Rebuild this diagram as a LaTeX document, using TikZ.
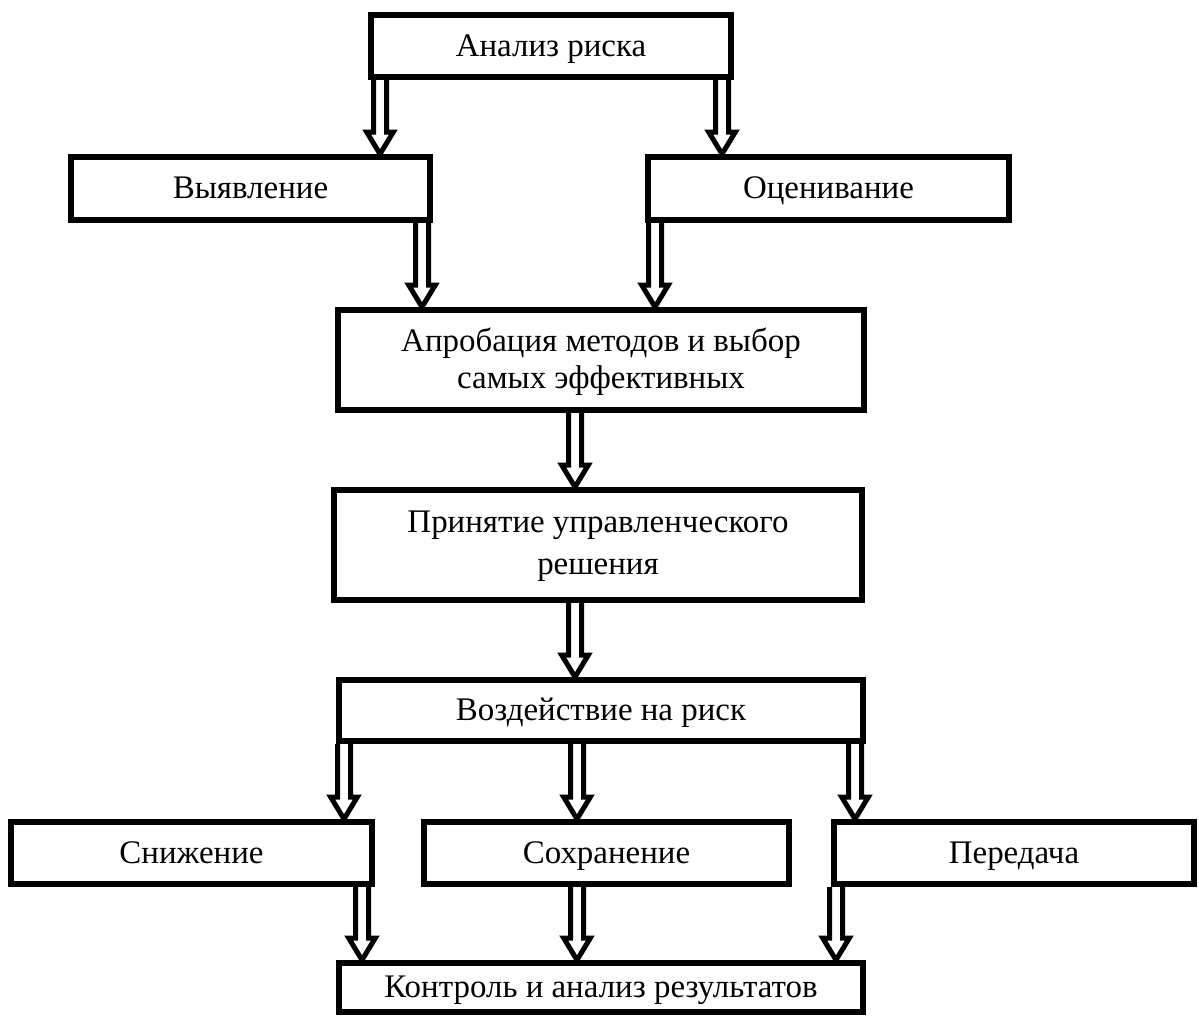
\documentclass[tikz,border=0pt]{standalone}
\usepackage{fontspec}
\setmainfont{Liberation Serif}
\usetikzlibrary{calc}
\tikzset{
  box/.style={draw=black, fill=white, line width=4.5pt, rectangle, inner sep=0pt,
    align=center, font=\fontsize{24.7}{27.75}\selectfont},
  dbl/.style={draw=black, fill=white, line width=3.75pt, line join=miter, miter limit=10}
}
\newcommand\tstrut{\rule[-8.3pt]{0pt}{32.2pt}}
\newcommand\bx[6]{\node[box, minimum width={(#4-#2-6)*0.75pt}, minimum height={(#5-#3-6)*0.75pt}] (#1) at ({(#2+#4)/2},{(#3+#5)/2}) {\tstrut #6};}
\newcommand\darr[3]{\draw[dbl] let \p1=(#2.south -| #1), \p2=(#3.north -| #1) in
 (\x1-4.875pt,\y1) -- (\x1-4.875pt,\y2+16.5pt) -- (\x1-10pt,\y2+16.5pt) -- (\x1,\y2) -- (\x1+10pt,\y2+16.5pt) -- (\x1+4.875pt,\y2+16.5pt) -- (\x1+4.875pt,\y1);}
\begin{document}
\begin{tikzpicture}[x=0.75pt, y=-0.75pt]
\useasboundingbox (0,0) rectangle (1199,1025);
\fill[white] (0,0) rectangle (1199,1025);
\bx{ana}{368}{12}{734}{80}{Анализ риска}
\bx{vyy}{68}{154}{433}{223}{Выявление}
\bx{otc}{645}{154}{1012}{223}{Оценивание}
\bx{apr}{335}{307}{867}{413}{Апробация методов и выбор\strut\\\strut самых эффективных}
\node[box, minimum width={(865-331-6)*0.75pt}, minimum height={(603-487-6)*0.75pt}, font=\fontsize{24.7}{31.5}\selectfont] (pri) at (598,545) {\strut Принятие управленческого\strut\\\strut решения\strut};
\bx{voz}{336}{677}{866}{744}{Воздействие на риск}
\bx{sni}{8}{819}{375}{887}{Снижение}
\bx{sox}{421}{819}{792}{887}{Сохранение}
\bx{per}{831}{819}{1197}{887}{Передача}
\bx{kon}{336}{960}{866}{1015}{Контроль и анализ результатов}
\coordinate (x1) at (380,0);
\coordinate (x2) at (722,0);
\coordinate (x3) at (422,0);
\coordinate (x4) at (655,0);
\coordinate (x5) at (575,0);
\coordinate (x6) at (344,0);
\coordinate (x7) at (577,0);
\coordinate (x8) at (855,0);
\coordinate (x9) at (362,0);
\coordinate (x10) at (836,0);
\darr{x1}{ana}{vyy}
\darr{x2}{ana}{otc}
\darr{x3}{vyy}{apr}
\darr{x4}{otc}{apr}
\darr{x5}{apr}{pri}
\darr{x5}{pri}{voz}
\darr{x6}{voz}{sni}
\darr{x7}{voz}{sox}
\darr{x8}{voz}{per}
\darr{x9}{sni}{kon}
\darr{x7}{sox}{kon}
\darr{x10}{per}{kon}
\end{tikzpicture}
\end{document}
